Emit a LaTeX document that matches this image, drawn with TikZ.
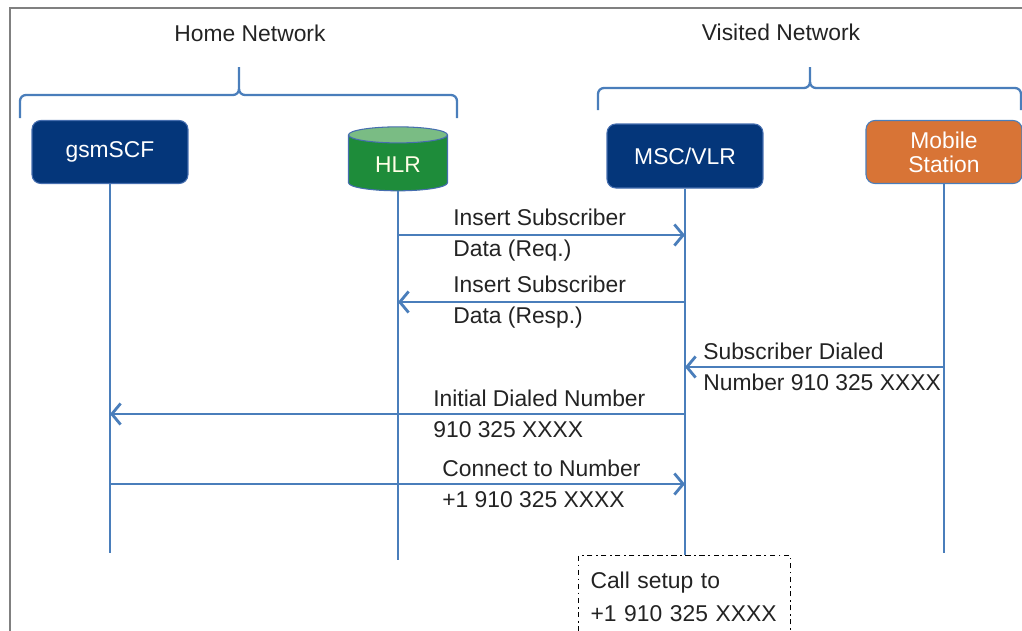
\documentclass[tikz,border=0pt]{standalone}
\usepackage{fontspec}
\setmainfont{Liberation Sans}
\usepackage{tikz}
\usetikzlibrary{shapes, arrows.meta, positioning, calc}
\definecolor{lineblue}{RGB}{74, 126, 187}
\definecolor{navy1}{RGB}{4, 54, 122}
\definecolor{navyedge}{RGB}{70, 110, 175}
\definecolor{hlrgreen}{RGB}{30, 140, 58}
\definecolor{hlrtop}{RGB}{122, 188, 132}
\definecolor{msorange}{RGB}{216, 116, 54}
\definecolor{txtgray}{RGB}{35, 35, 35}

\begin{document}
\begin{tikzpicture}[x=0.02cm, y=-0.02cm,
  entity/.style={rounded corners=5pt, draw=navyedge, line width=0.6pt, text=white, align=center,
    font=\fontsize{13}{13.6}\selectfont, minimum width=3.12cm, minimum height=1.26cm},
  lifeline/.style={draw=lineblue, line width=1.6pt},
  msg/.style={lifeline, -{Straight Barb[length=5pt, width=12pt, line width=1.6pt]}},
  msgtext/.style={anchor=west, align=left, inner sep=0pt, text=txtgray,
    font=\fontsize{13}{17.6}\selectfont},
  brace/.style={draw=lineblue, line width=1.3pt},
  title/.style={text=txtgray, font=\fontsize{13}{15}\selectfont}]
  \useasboundingbox (0,0) rectangle (1022,630);

  % outer frame
  \draw[gray, line width=1pt] (10,8) rectangle (1060,660);

  % networks
  \node[title] (homenet) at (250,33) {Home Network};
  \node[title] (visnet) at (781,32) {Visited Network};
  \draw[brace] (20,118) -- (20,101) to[out=90,in=180] (26,95) -- (233,95)
    to[out=0,in=-90] (239,89) -- (239,67);
  \draw[brace] (239,89) to[out=-90,in=180] (245,95) -- (451,95)
    to[out=0,in=90] (457,101) -- (457,118);
  \draw[brace] (598,110) -- (598,94) to[out=90,in=180] (604,88) -- (804,88)
    to[out=0,in=-90] (810,82) -- (810,67);
  \draw[brace] (810,82) to[out=-90,in=180] (816,88) -- (1015,88)
    to[out=0,in=90] (1021,94) -- (1021,110);

  % entities
  \node[entity, fill=navy1] (gsmscf) at (110,152) {gsmSCF};
  \node[cylinder, shape border rotate=90, aspect=0.28, draw=navyedge, line width=0.6pt,
    cylinder uses custom fill, cylinder body fill=hlrgreen, cylinder end fill=hlrtop,
    minimum width=1.98cm, minimum height=1.28cm, text=white!90!yellow,
    font=\fontsize{13}{15}\selectfont] (hlr) at (398,165) {HLR};
  \node[entity, fill=navy1, minimum height=1.28cm] (msc) at (685,156) {MSC/VLR};
  \node[entity, fill=msorange, draw=lineblue] (ms) at (944,152) {Mobile\\Station};

  % call setup
  \node[draw=black, line width=0.6pt, dash pattern=on 3pt off 2pt on 1pt off 2pt,
    anchor=north west, align=left, inner xsep=0.24cm, inner ysep=0.32cm, text width=3.76cm,
    text=txtgray, font=\fontsize{13}{18.8}\selectfont] (setup) at (578,555)
    {Call setup to\\+1 910 325 XXXX};

  % lifelines
  \coordinate (scfend) at (110,553);
  \coordinate (hlrend) at (398,560);
  \coordinate (msend) at (944,553);
  \draw[lifeline] (gsmscf.south) -- (scfend);
  \draw[lifeline] (hlr.bottom) -- (hlrend);
  \draw[lifeline] (msc.south) -- (msc.south |- setup.north);
  \draw[lifeline] (ms.south) -- (msend);

  % messages
  \node[msgtext] (isdreq) at (453,235) {Insert Subscriber\\Data (Req.)};
  \node[msgtext] (isdresp) at (453,302) {Insert Subscriber\\Data (Resp.)};
  \node[msgtext] (dialed) at (703,367) {Subscriber Dialed\\Number 910 325 XXXX};
  \node[msgtext] (idn) at (433,414) {Initial Dialed Number\\910 325 XXXX};
  \node[msgtext] (connect) at (442,484) {Connect to Number\\+1 910 325 XXXX};

  \draw[msg] (hlr |- isdreq.west) -- (msc |- isdreq.west);
  \draw[msg] (msc |- isdresp.west) -- (hlr |- isdresp.west);
  \draw[msg] (ms |- dialed.west) -- (msc |- dialed.west);
  \draw[msg] (msc |- idn.west) -- (gsmscf |- idn.west);
  \draw[msg] (gsmscf |- connect.west) -- (msc |- connect.west);
\end{tikzpicture}
\end{document}
